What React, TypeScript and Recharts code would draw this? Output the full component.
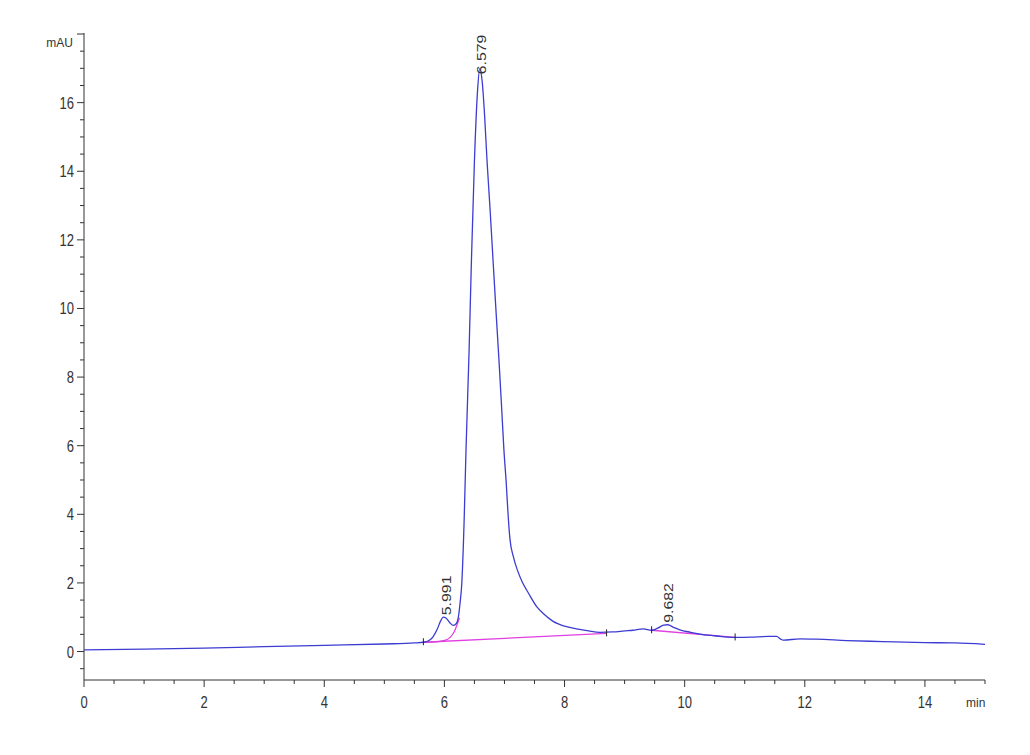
import { ComposedChart, Line, Scatter, XAxis, YAxis } from 'recharts'

// chromatogram signal (min, mAU)
const retentionTimes = [
  0, 1, 2, 3, 4, 5, 5.5, 5.65, 5.75, 5.81, 5.88, 5.94, 5.98, 6.03, 6.09, 6.15, 6.2, 6.23, 6.26, 6.29,
  6.33, 6.36, 6.41, 6.45, 6.5, 6.55, 6.59, 6.63, 6.67, 6.71, 6.76, 6.81, 6.86, 6.91, 6.95, 6.99, 7.03,
  7.06, 7.09, 7.15, 7.22, 7.29, 7.4, 7.54, 7.65, 7.81, 8.0, 8.2, 8.4, 8.59, 8.8, 9.0, 9.14, 9.31, 9.45, 9.55,
  9.65, 9.72, 9.82, 9.92, 10.1, 10.25, 10.5, 10.81, 11.1, 11.4, 11.53, 11.6, 11.64, 11.92, 12.2, 12.7,
  13.3, 14.0, 14.5, 15,
]
const absorbance = [
  0.05, 0.07, 0.1, 0.14, 0.18, 0.22, 0.25, 0.27, 0.33, 0.43, 0.65, 0.9, 1.0, 0.97, 0.84, 0.76, 0.82, 0.98, 1.4, 2.0,
  3.9, 5.9, 8.7, 11.4, 14.3, 16.3, 17.0, 16.6, 15.6, 14.3, 12.9, 11.4, 9.9, 8.45, 7.2, 5.9, 4.9,
  4.0, 3.3, 2.75, 2.35, 2.05, 1.7, 1.3, 1.1, 0.88, 0.74, 0.66, 0.6, 0.56, 0.57, 0.6, 0.62, 0.66, 0.62, 0.68,
  0.77, 0.78, 0.7, 0.63, 0.56, 0.51, 0.46, 0.41, 0.42, 0.44, 0.44, 0.36, 0.33, 0.37, 0.36, 0.32,
  0.29, 0.26, 0.25, 0.21,
]

// integration baselines
const baseMainT = [5.65, 8.7]
const baseMainV = [0.27, 0.53]
const baseSkimT = [5.65, 5.9, 6.02, 6.1, 6.17, 6.21, 6.25]
const baseSkimV = [0.27, 0.29, 0.33, 0.42, 0.6, 0.78, 0.98]
const baseLateT = [9.45, 10.84]
const baseLateV = [0.62, 0.41]

// integration event marks
const eventT = [5.65, 8.7, 9.45, 10.84]
const eventV = [0.27, 0.53, 0.62, 0.41]

// peak apex labels
const peakLabels = ['5.991', '6.579', '9.682']
const peakT = [5.991, 6.579, 9.682]
const peakV = [1.0, 17.0, 0.78]

const xTicks = [
  0, 0.5, 1, 1.5, 2, 2.5, 3, 3.5, 4, 4.5, 5, 5.5, 6, 6.5, 7, 7.5, 8, 8.5, 9, 9.5, 10, 10.5, 11, 11.5,
  12, 12.5, 13, 13.5, 14, 14.5, 15,
]
const xLabels = [0, 2, 4, 6, 8, 10, 12, 14]
const yTicks = [
  -0.5, 0, 0.5, 1, 1.5, 2, 2.5, 3, 3.5, 4, 4.5, 5, 5.5, 6, 6.5, 7, 7.5, 8, 8.5, 9, 9.5, 10, 10.5, 11,
  11.5, 12, 12.5, 13, 13.5, 14, 14.5, 15, 15.5, 16, 16.5, 17, 17.5, 18,
]
const yLabels = [0, 2, 4, 6, 8, 10, 12, 14, 16]

const zip = (ts: number[], vs: number[]) => ts.map((t, i) => ({ t, v: vs[i] }))

const signal = zip(retentionTimes, absorbance)
const baseMain = zip(baseMainT, baseMainV)
const baseSkim = zip(baseSkimT, baseSkimV)
const baseLate = zip(baseLateT, baseLateV)
const events = zip(eventT, eventV)
const peaks = peakT.map((t, i) => ({ t, v: peakV[i], label: peakLabels[i] }))

const INK = '#333'
const FONT = 'Arial, "Liberation Sans", Helvetica, sans-serif'

function XTick(props: any) {
  const { x, y, payload } = props
  const major = xLabels.includes(payload.value)
  return (
    <g>
      <line x1={x} x2={x} y1={y} y2={y + (major ? 7 : 4)} stroke={INK} strokeWidth={1} />
      {major && (
        <text
          transform={`translate(${x},${y + 28}) scale(1,1.3)`}
          textAnchor="middle"
          fontSize={13}
          fill={INK}
          fontFamily={FONT}
        >
          {payload.value}
        </text>
      )}
    </g>
  )
}

function YTick(props: any) {
  const { x, y, payload } = props
  const major = yLabels.includes(payload.value) || payload.value === 18
  return (
    <g>
      <line x1={x - (major ? 7 : 4)} x2={x} y1={y} y2={y} stroke={INK} strokeWidth={1} />
      {yLabels.includes(payload.value) && (
        <text
          transform={`translate(${x - 10},${y + 6}) scale(1,1.3)`}
          textAnchor="end"
          fontSize={13}
          fill={INK}
          fontFamily={FONT}
        >
          {payload.value}
        </text>
      )}
    </g>
  )
}

// the tallest apex label sits a little lower, overlapping the peak top
function PeakLabel(props: any) {
  const { cx, cy, payload } = props
  const dy = payload.v > 10 ? 6 : -2
  return (
    <text
      transform={`translate(${cx + 7},${cy + dy}) rotate(-90) scale(1.22,1)`}
      textAnchor="start"
      fontSize={13}
      fill={INK}
      fontFamily={FONT}
    >
      {payload.label}
    </text>
  )
}

function EventMark(props: any) {
  const { cx, cy } = props
  return <line x1={cx} x2={cx} y1={cy - 4} y2={cy + 3} stroke="#222" strokeWidth={1} />
}

export default function App() {
  return (
    <div style={{ position: 'absolute', left: 0, top: 0, width: 1030, height: 755, background: '#fff' }}>
      <ComposedChart width={1030} height={755} margin={{ top: 33, right: 45, bottom: 0, left: 0 }}>
        <XAxis
          type="number"
          dataKey="t"
          domain={[0, 15]}
          ticks={xTicks}
          interval={0}
          height={75}
          tickSize={0}
          tickMargin={0}
          tick={<XTick />}
          axisLine={{ stroke: INK }}
          label={({ viewBox }: any) => (
            <text
              x={viewBox.x + viewBox.width - 19}
              y={viewBox.y + 27}
              fontSize={12}
              fill={INK}
              fontFamily={FONT}
            >
              min
            </text>
          )}
        />
        <YAxis
          type="number"
          dataKey="v"
          domain={[-0.83, 18.03]}
          ticks={yTicks}
          interval={0}
          width={84}
          tickSize={0}
          tickMargin={0}
          tick={<YTick />}
          axisLine={{ stroke: INK }}
          label={({ viewBox }: any) => (
            <text
              x={viewBox.x + viewBox.width - 11}
              y={viewBox.y + 14}
              textAnchor="end"
              fontSize={12}
              fill={INK}
              fontFamily={FONT}
            >
              mAU
            </text>
          )}
        />
        <Line
          data={baseMain}
          dataKey="v"
          type="linear"
          stroke="#e040e0"
          strokeWidth={1.3}
          dot={false}
          isAnimationActive={false}
        />
        <Line
          data={baseSkim}
          dataKey="v"
          type="monotone"
          stroke="#e040e0"
          strokeWidth={1.3}
          dot={false}
          isAnimationActive={false}
        />
        <Line
          data={baseLate}
          dataKey="v"
          type="linear"
          stroke="#e040e0"
          strokeWidth={1.3}
          dot={false}
          isAnimationActive={false}
        />
        <Line
          data={signal}
          dataKey="v"
          type="monotone"
          stroke="#3c3cd2"
          strokeWidth={1.3}
          dot={false}
          isAnimationActive={false}
        />
        <Scatter data={events} dataKey="v" shape={<EventMark />} isAnimationActive={false} />
        <Scatter data={peaks} dataKey="v" shape={<PeakLabel />} isAnimationActive={false} />
      </ComposedChart>
    </div>
  )
}
